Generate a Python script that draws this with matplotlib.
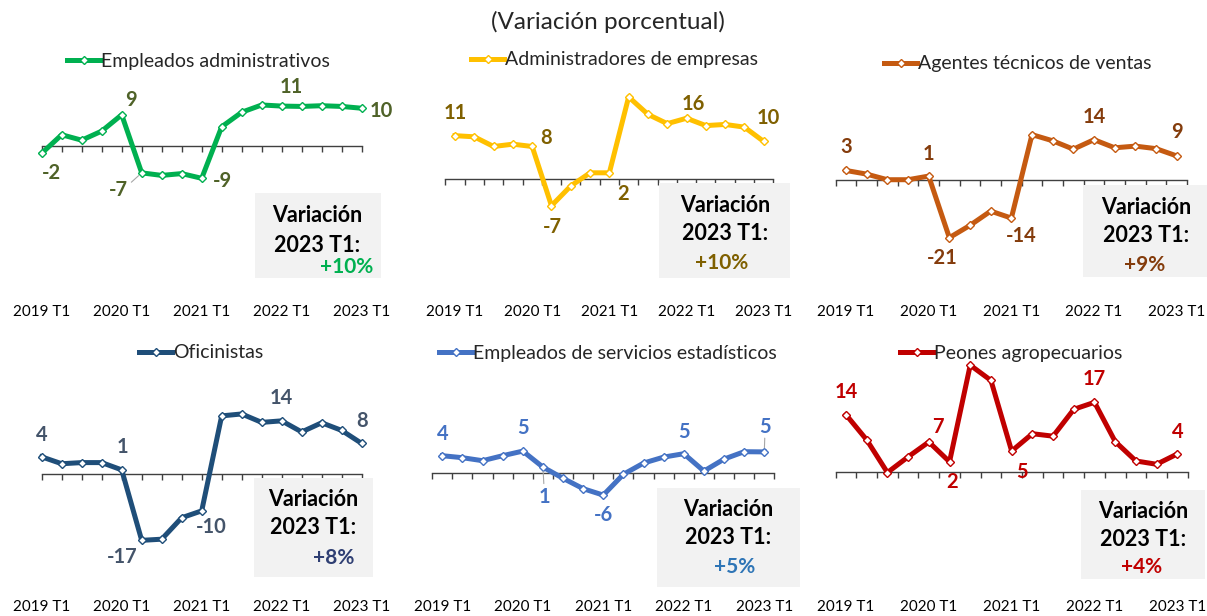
import matplotlib
matplotlib.use("Agg")
import matplotlib.pyplot as plt
from matplotlib.patches import Rectangle
from matplotlib.transforms import blended_transform_factory

plt.rcParams['font.family'] = ['Lato', 'DejaVu Sans']

W, H = 1207, 616

quarters = list(range(17))  # 2019 T1 ... 2023 T1
year_ticks = [0, 4, 8, 12, 16]
year_labels = ["2019 T1", "2020 T1", "2021 T1", "2022 T1", "2023 T1"]

# ---------------- data (variacion porcentual) ----------------
empleados_admin = [-2.0, 3.1, 1.6, 4.1, 8.6, -7.4, -8.1, -7.6, -8.9, 5.3, 9.3, 11.3, 11.0, 10.9, 11.1, 10.9, 10.4]
administradores = [11.2, 10.9, 8.4, 9.0, 8.4, -6.9, -1.8, 1.6, 1.6, 21.2, 16.7, 14.3, 15.7, 13.8, 14.1, 13.4, 9.7]
agentes_ventas = [3.4, 2.1, 0.1, 0.1, 1.4, -20.6, -16.2, -11.1, -13.6, 16.2, 14.0, 11.0, 14.4, 11.5, 12.1, 11.2, 8.6]
oficinistas = [4.4, 2.6, 2.9, 2.9, 1.0, -17.4, -17.1, -11.5, -9.7, 15.1, 15.6, 13.4, 13.8, 10.9, 13.3, 11.3, 7.9]
serv_estadisticos = [4.25, 3.75, 3.0, 4.25, 5.4, 1.4, -1.4, -4.0, -5.6, -0.4, 2.4, 3.9, 4.75, 0.4, 3.4, 5.25, 5.2]
peones_agro = [13.8, 7.7, -0.2, 3.6, 7.2, 2.4, 25.8, 22.1, 5.0, 9.2, 8.6, 15.1, 16.8, 7.3, 2.6, 1.8, 4.3]

names = ["Empleados administrativos", "Administradores de empresas", "Agentes técnicos de ventas",
         "Oficinistas", "Empleados de servicios estadísticos", "Peones agropecuarios"]
series = [empleados_admin, administradores, agentes_ventas, oficinistas, serv_estadisticos, peones_agro]
line_colors = ["#00B050", "#FFC000", "#C55A11", "#1F4E79", "#4472C4", "#C00000"]
label_colors = ["#4F6228", "#7F6000", "#843C0C", "#44546A", "#4472C4", "#C00000"]
value_colors = ["#00B050", "#7F6000", "#843C0C", "#2F3F73", "#2E75B6", "#C00000"]
label_idx = [0, 4, 5, 8, 12, 16]

# ---------------- layout (pixels) ----------------
# first point x, last point x, half-step pad, axis y, px per unit, top, bottom
panels = [
    (41.7, 361.7, 0.0, 146.0, 3.63, 70, 290),
    (455.0, 763.7, 0.5, 179.0, 3.87, 70, 290),
    (846.0, 1176.7, 0.5, 180.0, 2.80, 70, 290),
    (41.7, 361.7, 0.0, 473.7, 3.83, 340, 590),
    (442.3, 764.3, 0.5, 472.7, 4.00, 340, 590),
    (846.0, 1177.3, 0.5, 471.7, 4.13, 340, 590),
]
# data label offsets in pixels (dx, dy down)
label_off = [
    [(10, 20), (9, -15), (-23, 17), (21, 3), (10, -19), (20, 3)],
    [(0, -23), (14, -8), (1, 21), (14, 21), (7, -14), (5, -23)],
    [(0, -23), (0, -22), (-7, 20), (10, 18), (0, -23), (0, -24)],
    [(0, -22), (1, -23), (-20, 17), (10, 16), (0, -23), (0, -22)],
    [(0, -22), (0, -23), (2, 30), (0, 20), (0, -22), (1, -25)],
    [(0, -23), (9, -15), (3, 20), (10, 21), (0, -23), (0, -22)],
]
# small leader lines: (panel, label number)
leaders = [(0, 2), (4, 2), (4, 5)]
legend_pos = [(67, 61), (471, 60), (884, 64), (139, 353), (439, 353), (900, 353)]
year_label_y = [312, 312, 312, 607, 607, 607]
# box: x0, y0, x1, y1, text center x, line y's, value x
boxes = [
    (255, 193, 381, 278, 317, (215, 245, 267), 347),
    (659, 183, 790, 278, 725, (205, 233, 263), 722),
    (1083, 185, 1207, 277, 1146, (207, 235, 265), 1145),
    (254, 478, 373, 577, 313, (500, 528, 558), 334),
    (657, 488, 800, 587, 728, (509, 538, 567), 735),
    (1081, 490, 1205, 579, 1143, (512, 540, 567), 1142),
]

fig = plt.figure(figsize=(W / 100, H / 100), dpi=100)
fig.text(608 / W, 1 - 22 / H, "(Variación porcentual)", ha='center', va='center',
         fontsize=17.5, color='#262626')

for i in range(6):
    x_first, x_last, pad, y0, unit, top, bottom = panels[i]
    step = (x_last - x_first) / 16
    left = x_first - pad * step
    right = x_last + pad * step
    ax = fig.add_axes([left / W, 1 - bottom / H, (right - left) / W, (bottom - top) / H])
    ax.set_xlim(-pad, 16 + pad)
    ax.set_ylim(-(bottom - y0) / unit, (y0 - top) / unit)

    vals = series[i]
    line, = ax.plot(quarters, vals, color=line_colors[i], lw=3.6, marker='D', ms=4.5,
                    mfc='white', mec=line_colors[i], mew=1.0, clip_on=False, zorder=3)

    for spine in ['top', 'right', 'left']:
        ax.spines[spine].set_visible(False)
    ax.spines['bottom'].set_position(('data', 0))
    ax.spines['bottom'].set_color('#404040')
    ax.spines['bottom'].set_linewidth(1.0)
    if pad:
        ticks = [q - 0.5 for q in quarters] + [16.5]
    else:
        ticks = quarters
    ax.set_xticks(ticks)
    ax.set_xticklabels([])
    ax.tick_params(axis='x', direction='out', length=4, width=1, color='#404040')
    ax.set_yticks([])
    ax.patch.set_visible(False)

    trans = blended_transform_factory(ax.transData, fig.transFigure)
    for t, lab in zip(year_ticks, year_labels):
        ax.text(t, 1 - year_label_y[i] / H, lab, transform=trans, ha='center', va='center',
                fontsize=11, color='#000000')

    for k, idx in enumerate(label_idx):
        dx, dy = label_off[i][k]
        if (i, k) in leaders:
            ax.annotate("", (idx, vals[idx]), xytext=(dx * 0.45, -dy * 0.55),
                        textcoords='offset pixels',
                        arrowprops=dict(arrowstyle='-', color='#A6A6A6', lw=0.8,
                                        shrinkA=0, shrinkB=3))
        ax.annotate(f"{round(vals[idx])}", (idx, vals[idx]), xytext=(dx, -dy),
                    textcoords='offset pixels', ha='center', va='center',
                    fontsize=14.5, fontweight='bold', color=label_colors[i])

    lx, ly = legend_pos[i]
    ax.legend([line], [names[i]], loc='center left', bbox_to_anchor=(lx / W, 1 - ly / H),
              bbox_transform=fig.transFigure, frameon=False, borderpad=0, borderaxespad=0,
              handlelength=1.7, handletextpad=0.05, fontsize=14, labelcolor='#262626')

    bx0, by0, bx1, by1, tx, ys, vx = boxes[i]
    fig.add_artist(Rectangle((bx0 / W, 1 - by1 / H), (bx1 - bx0) / W, (by1 - by0) / H,
                             transform=fig.transFigure, facecolor='#F2F2F2', edgecolor='none'))
    fig.text(tx / W, 1 - ys[0] / H, "Variación", ha='center', va='center', fontsize=15.5,
             fontweight='bold', color='black')
    fig.text(tx / W, 1 - ys[1] / H, "2023 T1:", ha='center', va='center', fontsize=15.5,
             fontweight='bold', color='black')
    fig.text(vx / W, 1 - ys[2] / H, f"+{round(vals[-1])}%", ha='center', va='center',
             fontsize=15, fontweight='bold', color=value_colors[i])

fig.savefig("out.png", dpi=100)
